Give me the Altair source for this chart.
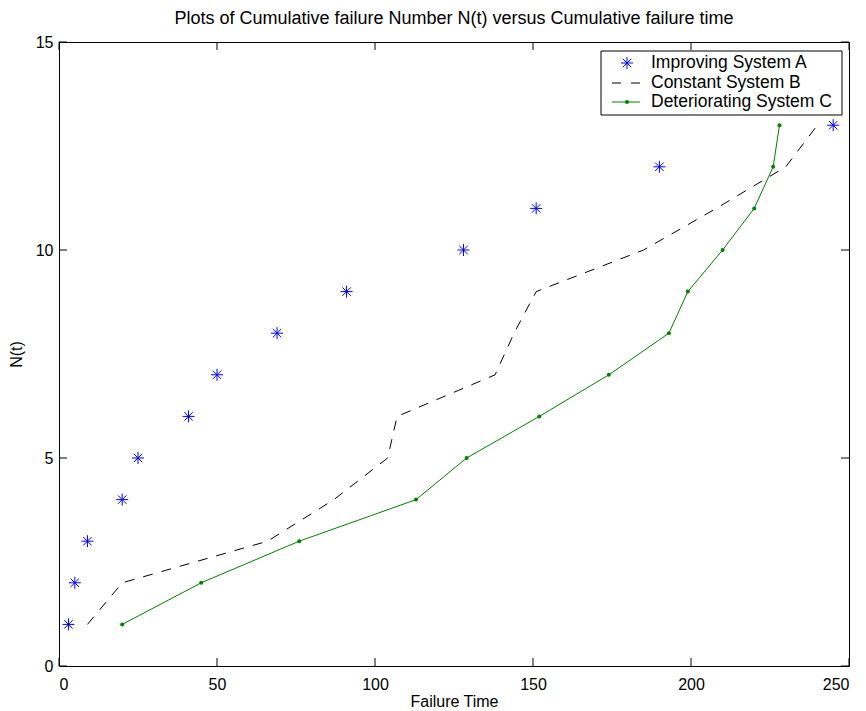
import altair as alt
import pandas as pd

# ---- data ----
series_labels = ["Improving System A", "Constant System B", "Deteriorating System C"]

a_time = [3, 5, 9, 20, 25, 41, 50, 69, 91, 128, 151, 190, 245]
a_n = [1, 2, 3, 4, 5, 6, 7, 8, 9, 10, 11, 12, 13]

b_time = [9, 20, 66, 87, 104, 107, 138, 144, 151, 185, 208, 230, 240]
b_n = [1, 2, 3, 4, 5, 6, 7, 8, 9, 10, 11, 12, 13]

c_time = [20, 45, 76, 113, 129, 152, 174, 193, 199, 210, 220, 226, 228]
c_n = [1, 2, 3, 4, 5, 6, 7, 8, 9, 10, 11, 12, 13]

x_ticks = [0, 50, 100, 150, 200, 250]
y_ticks = [0, 5, 10, 15]

W, H = 790, 624
FONT = "Liberation Sans"
STAR = "M0,-1L0,1M-1,0L1,0M-0.7,-0.7L0.7,0.7M-0.7,0.7L0.7,-0.7"

dfa = pd.DataFrame({"t": a_time, "n": a_n})
dfb = pd.DataFrame({"t": b_time, "n": b_n})
dfc = pd.DataFrame({"t": c_time, "n": c_n})
dfxt = pd.DataFrame({"t": x_ticks})
dfyt = pd.DataFrame({"n": y_ticks})

xs = alt.Scale(domain=[0, 250], nice=False, zero=False)
ys = alt.Scale(domain=[0, 15], nice=False, zero=False)
xaxis = alt.Axis(values=x_ticks, title="Failure Time", labelPadding=10, titlePadding=1,
                 domain=False, ticks=False, grid=False,
                 labelFont=FONT, labelFontSize=16, labelColor="black",
                 titleFont=FONT, titleFontSize=16, titleFontWeight="normal", titleColor="black")
yaxis = alt.Axis(values=y_ticks, title="N(t)", labelPadding=6, titlePadding=11,
                 domain=False, ticks=False, grid=False,
                 labelFont=FONT, labelFontSize=16, labelColor="black",
                 titleFont=FONT, titleFontSize=16, titleFontWeight="normal", titleColor="black")


def X(f="t"):
    return alt.X(f"{f}:Q", scale=xs, axis=xaxis)


def Y(f="n"):
    return alt.Y(f"{f}:Q", scale=ys, axis=yaxis)


ticks_bottom = alt.Chart(dfxt).mark_rule(color="black", strokeWidth=1).encode(
    x=X(), y=alt.value(H), y2=alt.value(H - 8))
ticks_top = alt.Chart(dfxt).mark_rule(color="black", strokeWidth=1).encode(
    x=X(), y=alt.value(0), y2=alt.value(8))
ticks_left = alt.Chart(dfyt).mark_rule(color="black", strokeWidth=1).encode(
    y=Y(), x=alt.value(0), x2=alt.value(8))
ticks_right = alt.Chart(dfyt).mark_rule(color="black", strokeWidth=1).encode(
    y=Y(), x=alt.value(W), x2=alt.value(W - 8))

line_b = alt.Chart(dfb).mark_line(color="black", strokeWidth=1, strokeDash=[10, 9]).encode(
    x=X(), y=Y(), order="n:Q")
line_c = alt.Chart(dfc).mark_line(color="#008000", strokeWidth=1).encode(
    x=X(), y=Y(), order="n:Q")
pts_c = alt.Chart(dfc).mark_point(filled=True, color="#008000", size=16, opacity=1, shape="circle").encode(
    x=X(), y=Y())
pts_a = alt.Chart(dfa).mark_point(shape=STAR, size=144, color="#0000ff", filled=False,
                                  strokeWidth=1, opacity=1).encode(x=X(), y=Y())

# ---- legend box (drawn in pixel space) ----
one = pd.DataFrame({"k": [0]})
lg_left, lg_right, lg_top, lg_bot = 542, 783, 9, 73
row_y = [21, 41, 60]
sym_l, sym_r, sym_c, txt_x = 553, 581, 568, 592

legend_layers = [
    alt.Chart(one).mark_rect(fill="white", stroke="black", strokeWidth=1).encode(
        x=alt.value(lg_left), x2=alt.value(lg_right), y=alt.value(lg_top), y2=alt.value(lg_bot)),
    alt.Chart(one).mark_point(shape=STAR, size=144, color="#0000ff", filled=False,
                              strokeWidth=1, opacity=1).encode(
        x=alt.value(sym_c), y=alt.value(row_y[0])),
    alt.Chart(one).mark_rule(color="black", strokeWidth=1, strokeDash=[9, 10]).encode(
        x=alt.value(sym_l), x2=alt.value(sym_r), y=alt.value(row_y[1])),
    alt.Chart(one).mark_rule(color="#008000", strokeWidth=1).encode(
        x=alt.value(sym_l), x2=alt.value(sym_r), y=alt.value(row_y[2])),
    alt.Chart(one).mark_point(filled=True, color="#008000", size=16, opacity=1, shape="circle").encode(
        x=alt.value(sym_c), y=alt.value(row_y[2])),
]
for lab, yy in zip(series_labels, row_y):
    legend_layers.append(
        alt.Chart(pd.DataFrame({"label": [lab]})).mark_text(
            align="left", baseline="middle", font=FONT, fontSize=17.5, color="black").encode(
            x=alt.value(txt_x), y=alt.value(yy), text="label:N"))

chart = alt.layer(
    ticks_bottom, ticks_top, ticks_left, ticks_right,
    line_b, line_c, pts_c, pts_a, *legend_layers
).properties(
    width=W, height=H,
    background="white",
    title=alt.TitleParams("Plots of Cumulative failure Number N(t) versus Cumulative failure time",
                          font=FONT, fontSize=18, fontWeight="normal", color="black",
                          anchor="middle", offset=6),
    autosize=alt.AutoSizeParams(type="none"),
    padding={"left": 59, "top": 42, "right": 17, "bottom": 45},
).configure_view(stroke="black", strokeWidth=1)

chart.save("out.html", embed_options={"renderer": "svg", "actions": False})
